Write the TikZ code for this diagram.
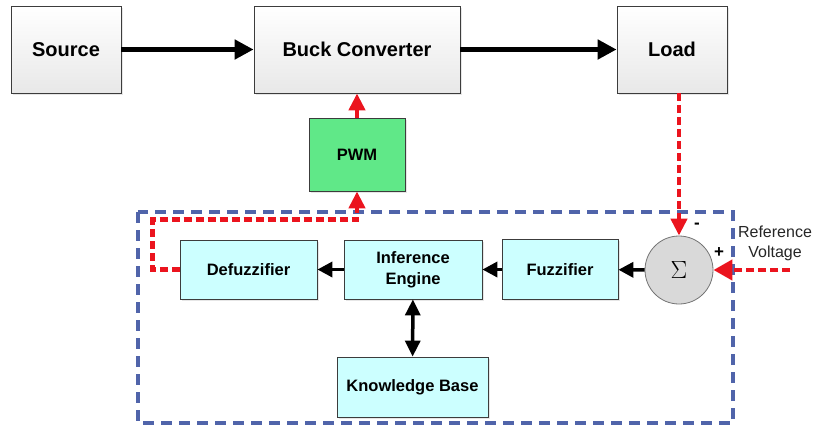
\documentclass[tikz,border=0pt]{standalone}
\usepackage{fontspec}
\setmainfont{Liberation Sans}
\usetikzlibrary{arrows.meta,shadows}

\definecolor{boxline}{RGB}{60,60,60}
\definecolor{pwmgreen}{RGB}{96,232,136}
\definecolor{fuzzcyan}{RGB}{204,255,255}
\definecolor{fbred}{RGB}{235,20,30}
\definecolor{ctrlblue}{RGB}{80,100,170}

\tikzset{
	plant/.style={draw=boxline, line width=0.8pt, top color=white, bottom color=black!9,
		drop shadow={opacity=0.2, shadow xshift=1.5pt, shadow yshift=-1.5pt},
		inner sep=0pt, font=\fontsize{20}{24}\selectfont\bfseries},
	fuzzy/.style={draw=boxline, line width=0.8pt, fill=fuzzcyan,
		drop shadow={opacity=0.2, shadow xshift=1.5pt, shadow yshift=-1.5pt},
		inner sep=0pt, align=center, font=\fontsize{16.5}{21}\selectfont\bfseries},
	power/.style={line width=5pt, -{Triangle[length=19pt,width=19pt]}},
	signal/.style={line width=3.5pt, -{Triangle[length=15pt,width=15pt]}},
	fb/.style={draw=fbred, line width=4.5pt, dash pattern=on 8pt off 4pt,
		-{Triangle[length=17pt,width=16pt]}, fbred},
	ctrl/.style={draw=ctrlblue, line width=3.2pt, dash pattern=on 11pt off 7pt}
}

\begin{document}
\begin{tikzpicture}[x=1pt,y=-1pt]
	\useasboundingbox (0,0) rectangle (815,426);

	% power stage
	\node[plant, minimum width=110pt, minimum height=87pt] (src) at (66,49.5) {Source};
	\node[plant, minimum width=206pt, minimum height=87pt] (buck) at (357,49.5) {Buck Converter};
	\node[plant, minimum width=110pt, minimum height=87pt] (load) at (672,49.5) {Load};
	\draw[power] (src) -- (buck);
	\draw[power] (buck) -- (load);

	\node[fuzzy, fill=pwmgreen, minimum width=96pt, minimum height=73pt] (pwm) at (357,154.5) {PWM};

	% fuzzy controller
	\draw[ctrl] (138,212) rectangle (733,423);
	\node[fuzzy, minimum width=137pt, minimum height=59pt] (defuz) at (248.5,269.5) {Defuzzifier};
	\node[fuzzy, minimum width=138pt, minimum height=59pt] (infer) at (413,269.5) {Inference\\Engine};
	\node[fuzzy, minimum width=116pt, minimum height=60pt] (fuzz) at (560,269.5) {Fuzzifier};
	\node[fuzzy, minimum width=151pt, minimum height=60pt] (kb) at (412.5,387) {Knowledge Base};
	\node[circle, draw=black!55, line width=0.8pt, fill=black!15, minimum size=68pt, inner sep=0pt,
		font=\fontsize{30}{30}\selectfont] (sum) at (679,270) {$\Sigma$};

	\draw[signal] (sum) -- (fuzz);
	\draw[signal] (fuzz) -- (infer);
	\draw[signal] (infer) -- (defuz);
	\draw[line width=3.5pt, {Triangle[length=16pt,width=15pt]}-{Triangle[length=16pt,width=15pt]}] (infer) -- (kb);

	% feedback
	\draw[fb] (sum.north |- load.south) -- (sum.north);
	\draw[fb] (defuz.west) -- ++(-27,0) |- ([yshift=-28pt]pwm.south) -- (pwm.south);
	\draw[fb] (pwm) -- (buck);
	\coordinate (ref) at (790,270);
	\draw[fb, -{Triangle[length=19pt,width=20pt]}] (ref) -- (sum.east);

	\node[font=\fontsize{17}{17}\selectfont\bfseries] (minus) at (697,226) {-};
	\node[font=\fontsize{17}{17}\selectfont\bfseries] (plus) at (719,253) {+};
	\node[align=center, text=black!85, font=\fontsize{16}{20}\selectfont] (reflabel) at (775,243) {Reference\\Voltage};
\end{tikzpicture}
\end{document}
